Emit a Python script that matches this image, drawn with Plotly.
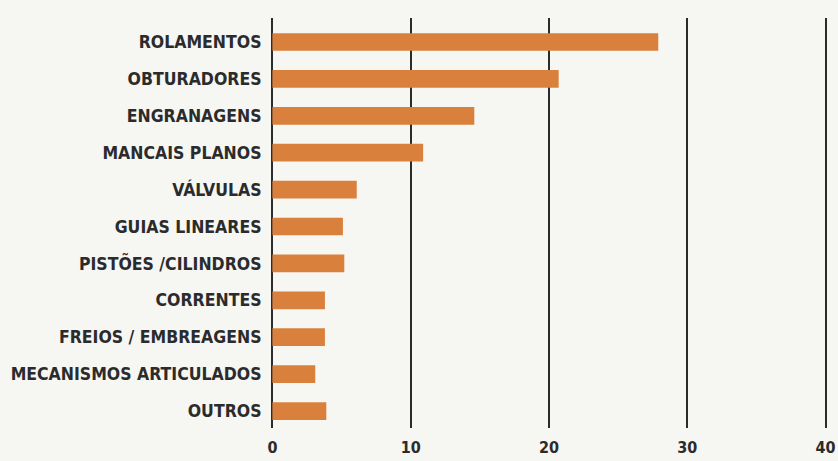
import plotly.graph_objects as go

categories = ["ROLAMENTOS", "OBTURADORES", "ENGRANAGENS", "MANCAIS PLANOS", "VÁLVULAS",
              "GUIAS LINEARES", "PISTÕES /CILINDROS", "CORRENTES", "FREIOS / EMBREAGENS",
              "MECANISMOS ARTICULADOS", "OUTROS"]
values = [27.9, 20.7, 14.6, 10.9, 6.1, 5.1, 5.2, 3.8, 3.8, 3.1, 3.9]
x_ticks = [0, 10, 20, 30, 40]

FONT = "DejaVu Sans Condensed, Liberation Sans Narrow, Arial Narrow, sans-serif"
BG = "#f6f6f3"
INK = "#2b2b2b"

fig = go.Figure(go.Bar(
    x=values, y=categories, orientation="h",
    marker=dict(color="#d9803d", line=dict(width=0)),
    width=0.48,
))

fig.update_layout(
    width=838, height=461,
    margin=dict(l=271, r=11, t=18, b=33, autoexpand=False),
    paper_bgcolor=BG, plot_bgcolor=BG,
    showlegend=False,
    font=dict(family=FONT, color=INK, size=16, weight="bold"),
    xaxis=dict(range=[-0.1, 40.1], tickvals=x_ticks, showgrid=True, gridcolor=INK,
               gridwidth=2, zeroline=False, showline=False, automargin=False,
               ticks="outside", ticklen=5, tickcolor=BG,
               tickfont=dict(family=FONT, size=16, color=INK, weight="bold")),
    yaxis=dict(categoryorder="array", categoryarray=categories,
               range=[10.46, -0.65], showgrid=False, zeroline=False, automargin=False,
               ticks="outside", ticklen=5, tickcolor=BG,
               tickfont=dict(family=FONT, size=17.5, color=INK, weight="bold")),
    bargap=0.5,
)

fig.write_html("out.html")
